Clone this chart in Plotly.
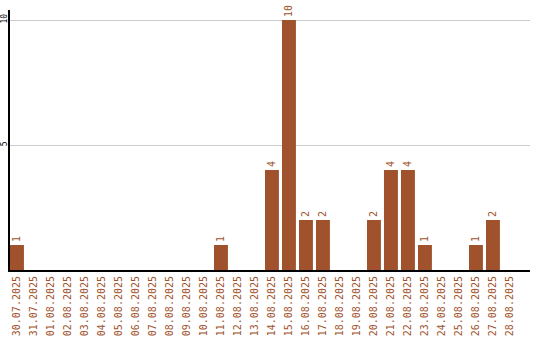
import plotly.graph_objects as go

dates = ["30.07.2025", "31.07.2025", "01.08.2025", "02.08.2025", "03.08.2025",
         "04.08.2025", "05.08.2025", "06.08.2025", "07.08.2025", "08.08.2025",
         "09.08.2025", "10.08.2025", "11.08.2025", "12.08.2025", "13.08.2025",
         "14.08.2025", "15.08.2025", "16.08.2025", "17.08.2025", "18.08.2025",
         "19.08.2025", "20.08.2025", "21.08.2025", "22.08.2025", "23.08.2025",
         "24.08.2025", "25.08.2025", "26.08.2025", "27.08.2025", "28.08.2025"]
counts = [1, 0, 0, 0, 0, 0, 0, 0, 0, 0,
          0, 0, 1, 0, 0, 4, 10, 2, 2, 0,
          0, 2, 4, 4, 1, 0, 0, 1, 2, 0]
y_ticks = [5, 10]

color = "#A0522D"
font_family = "DejaVu Sans Mono"

labels = [str(v) if v > 0 else "" for v in counts]

fig = go.Figure(go.Bar(
    x=dates, y=counts, marker_color=color, marker_line_width=0,
    text=labels, textposition="outside", textangle=-90,
    textfont=dict(family=font_family, size=10, color=color),
    cliponaxis=False,
))

fig.update_layout(
    width=540, height=340,
    margin=dict(l=10, r=10, t=10, b=70),
    plot_bgcolor="white", paper_bgcolor="white",
    bargap=0.18, showlegend=False,
    xaxis=dict(type="category", range=[-0.41, 30.18], tickangle=-90,
               tickfont=dict(family=font_family, size=10, color=color),
               showline=True, linecolor="black", linewidth=2,
               showgrid=False, ticks="", fixedrange=True, automargin=False),
    yaxis=dict(range=[0, 10.4], tickvals=y_ticks, tickangle=-90,
               tickfont=dict(family=font_family, size=8, color="black"),
               showline=True, linecolor="black", linewidth=2,
               gridcolor="#cccccc", gridwidth=1, zeroline=False, ticks="",
               ticklabelstandoff=-2, automargin=False),
)

fig.write_html("out.html")
